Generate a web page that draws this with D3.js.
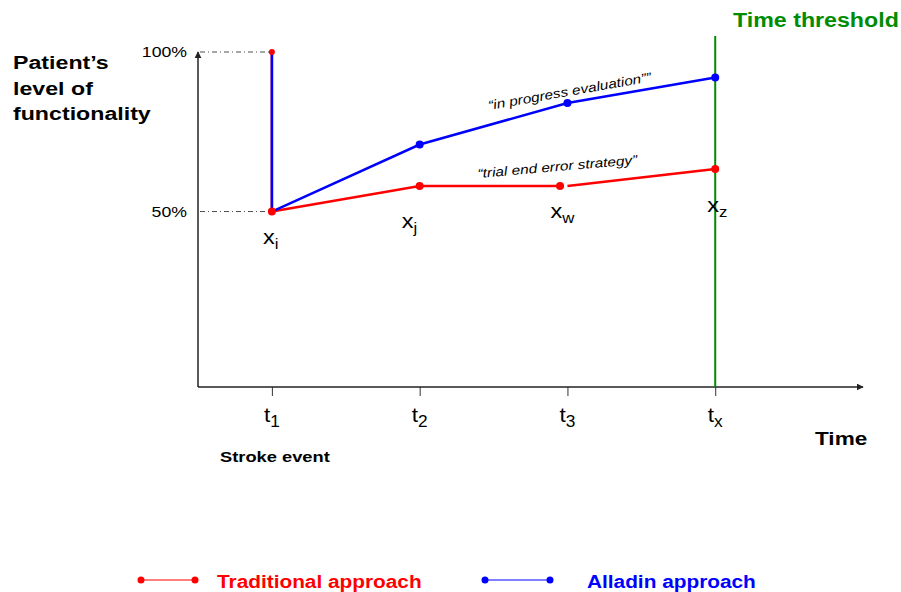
<!DOCTYPE html>
<html>
<head>
<meta charset="utf-8">
<script src="https://cdn.jsdelivr.net/npm/d3@7"></script>
<style>
  body { margin: 0; background: #fff; }
  text { font-family: "Liberation Sans", Arial, sans-serif; }
</style>
</head>
<body>
<svg width="901" height="592"></svg>
<script>
// data
const ticks = [1, 2, 3, 4];
const tickSubs = ["1", "2", "3", "x"];
const pointSubs = ["i", "j", "w", "z"];
const yTicks = [100, 50];
const yTickLabels = ["100%", "50%"];

// traditional approach (red); null = small break in the line
const redT = [1, 1, 2, 2.95, null, 3, 4];
const redV = [100, 50, 58, 58, null, 58, 63.3];
// alladin approach (blue)
const blueT = [1, 1, 2, 3, 4];
const blueV = [100, 50, 71, 84, 92];

const threshold = 4;

var svg = d3.select("svg");
const SX = 1.22; // the picture's text is stretched sideways

const x = d3.scaleLinear().domain([0.5, 5]).range([198, 863]);
const y = d3.scaleLinear().domain([-5, 100]).range([387, 52]);

const RED = "#ff0000", BLUE = "#0000ff", GREEN = "#008c00";

function label(g, tx, ty, str, opts) {
	opts = opts || {};
	return g.append("text")
		.attr("transform", `translate(${tx},${ty})` + (opts.rotate ? ` rotate(${opts.rotate})` : "") + ` scale(${opts.sx || SX},1)`)
		.attr("font-size", opts.size || 16)
		.attr("font-weight", opts.bold ? "bold" : null)
		.attr("font-style", opts.italic ? "italic" : null)
		.attr("text-anchor", opts.anchor || "start")
		.attr("fill", opts.fill || "#000")
		.text(str);
}

// arrow markers
const defs = svg.append("defs");
defs.append("marker")
	.attr("id", "arrow")
	.attr("viewBox", "0 0 10 10")
	.attr("refX", 9).attr("refY", 5)
	.attr("markerWidth", 7).attr("markerHeight", 7)
	.attr("markerUnits", "userSpaceOnUse")
	.attr("orient", "auto")
	.append("path")
	.attr("d", "M0,0 L10,5 L0,10 z")
	.attr("fill", "#222");

// dash-dot guides to the y labels
svg.append("g")
	.selectAll("line")
	.data(yTicks)
	.join("line")
	.attr("x1", x(0.5) + 2).attr("x2", x(1))
	.attr("y1", d => y(d)).attr("y2", d => y(d))
	.attr("stroke", "#222")
	.attr("stroke-width", 0.8)
	.attr("stroke-dasharray", "5,3,1,3");

yTicks.forEach((d, i) => {
	label(svg, 187, y(d) + 5, yTickLabels[i], { size: 14.5, anchor: "end" });
});

// x axis ticks
svg.append("g")
	.attr("transform", `translate(0,${y(-5)})`)
	.call(d3.axisBottom(x).tickValues(ticks).tickSize(9).tickFormat(""))
	.call(g => g.select(".domain").remove())
	.call(g => g.selectAll(".tick line").attr("stroke", "#333").attr("stroke-width", 1));

// axis lines with arrows
svg.append("line")
	.attr("x1", x(0.5)).attr("y1", y(-5))
	.attr("x2", x(5)).attr("y2", y(-5))
	.attr("stroke", "#222").attr("stroke-width", 1.5)
	.attr("marker-end", "url(#arrow)");
svg.append("line")
	.attr("x1", x(0.5)).attr("y1", y(-5))
	.attr("x2", x(0.5)).attr("y2", y(100))
	.attr("stroke", "#222").attr("stroke-width", 1.5)
	.attr("marker-end", "url(#arrow)");

// tick labels t1..tx
ticks.forEach((t, i) => {
	const tl = label(svg, x(t), 422, "t", { size: 21, anchor: "middle", sx: 1.08 });
	tl.append("tspan").attr("font-size", 16).attr("dy", 5).text(tickSubs[i]);
});

// time threshold
svg.append("line")
	.attr("x1", x(threshold)).attr("x2", x(threshold))
	.attr("y1", 36).attr("y2", y(-5))
	.attr("stroke", GREEN).attr("stroke-width", 2);
label(svg, 733, 27, "Time threshold", { size: 19.5, bold: true, fill: GREEN, sx: 1.19 });

// series
const line = d3.line()
	.defined((d) => d.t !== null)
	.x((d) => x(d.t))
	.y((d) => y(d.v));

const red = redT.map((t, i) => ({ t: t, v: redV[i] }));
const blue = blueT.map((t, i) => ({ t: t, v: blueV[i] }));

svg.append("path")
	.datum(red)
	.attr("d", line)
	.attr("fill", "none")
	.attr("stroke", RED)
	.attr("stroke-width", 2.5);

svg.append("path")
	.datum(blue)
	.attr("d", line)
	.attr("fill", "none")
	.attr("stroke", BLUE)
	.attr("stroke-width", 2.5);

svg.append("g")
	.selectAll("circle")
	.data(blue.slice(2))
	.join("circle")
	.attr("cx", (d) => x(d.t))
	.attr("cy", (d) => y(d.v))
	.attr("r", 4)
	.attr("fill", BLUE);

svg.append("g")
	.selectAll("circle")
	.data(red.filter((d, i) => d.t !== null && !(i === 5)))
	.join("circle")
	.attr("cx", (d) => x(d.t))
	.attr("cy", (d) => y(d.v))
	.attr("r", (d, i) => i === 0 ? 3 : 4)
	.attr("fill", RED);

// point labels x_i, x_j, x_w, x_z
const pointPos = [[-9, 244], [-18, 228], [-17, 218], [-8, 212]];
ticks.forEach((t, i) => {
	const pl = label(svg, x(t) + pointPos[i][0], pointPos[i][1], "x", { size: 21, sx: 1.12 });
	pl.append("tspan").attr("font-size", 15).attr("dy", 5).text(pointSubs[i]);
});

// annotations
label(svg, 489, 110, "\u201cin progress evaluation\u201d\u201d", { size: 13, italic: true, rotate: -10, sx: 1.18 });
label(svg, 478, 178, "\u201ctrial end error strategy\u201d", { size: 13, italic: true, rotate: -5, sx: 1.18 });

// axis titles
label(svg, 13, 69, "Patient\u2019s", { size: 19, bold: true });
label(svg, 13, 95, "level of", { size: 19, bold: true });
label(svg, 13, 120, "functionality", { size: 19, bold: true });
label(svg, 815, 445, "Time", { size: 18.5, bold: true });
label(svg, 220, 462, "Stroke event", { size: 15, bold: true });

// legend
const legend = [
	{ name: "Traditional approach", color: RED, x1: 141, x2: 195, tx: 217 },
	{ name: "Alladin approach", color: BLUE, x1: 485, x2: 550, tx: 587 }
];
legend.forEach((d) => {
	svg.append("line")
		.attr("x1", d.x1).attr("x2", d.x2)
		.attr("y1", 580).attr("y2", 580)
		.attr("stroke", d.color).attr("stroke-width", 1.2);
	svg.selectAll(null)
		.data([d.x1, d.x2])
		.join("circle")
		.attr("cx", (c) => c).attr("cy", 580)
		.attr("r", 3.5)
		.attr("fill", d.color);
	label(svg, d.tx, 588, d.name, { size: 17.5, bold: true, fill: d.color, sx: 1.19 });
});
</script>
</body>
</html>
